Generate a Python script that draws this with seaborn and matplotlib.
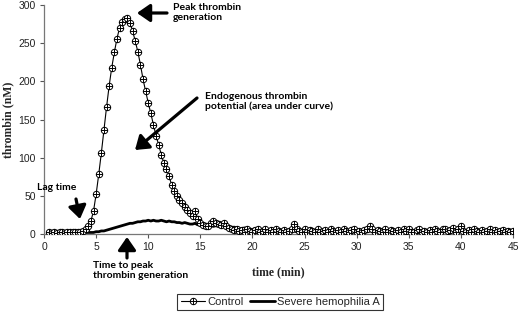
import numpy as np
import pandas as pd
import matplotlib
matplotlib.use("Agg")
import matplotlib.pyplot as plt
from matplotlib.path import Path
import seaborn as sns

# ---------------- data ----------------
time_min = np.round(np.arange(0.5, 45.001, 0.25), 2)  # sampling grid (min)

control_start = [2, 1, 2, 1, 2, 2, 1, 2, 3, 2, 3, 3, 3, 4]          # 0.5 - 3.75
control_peak = [6, 10, 17, 30, 52, 78, 106, 136, 166, 194,
                218, 238, 256, 270, 278, 282, 283, 277, 266, 253,
                239, 222, 203, 187, 172, 158, 143, 129, 117, 104,
                93, 85, 76, 64, 56, 50, 45, 41, 36, 32,
                28, 24, 30, 20, 15, 12, 10, 11, 14, 17,
                15, 13, 12, 14, 10, 8, 7, 5, 6, 4]                  # 4.0 - 18.75
control_tail = [5, 3, 6, 4, 2, 5, 7, 3, 4, 6, 2, 5, 3, 6, 4, 2, 5, 3, 4, 6,
                13, 7, 4, 3, 6, 2, 5, 4, 3, 6, 2, 4, 5, 3, 6, 4, 2, 5, 3, 6,
                4, 2, 5, 6, 3, 4, 2, 5, 7, 11, 6, 3, 5, 4, 2, 6, 3, 5, 4, 2,
                5, 3, 6, 4, 7, 3, 2, 5, 6, 3, 4, 2, 5, 3, 6, 4, 2, 6, 7, 4,
                5, 8, 3, 6, 10, 4, 2, 5, 3, 6, 4, 2, 5, 3, 4, 6, 2, 5, 3, 4,
                5, 2, 4, 3, 4]                                       # 19.0 - 45.0
control = control_start + control_peak + control_tail

hemo_start = [0, 0, 1, 0, 1, 0, 1, 1, 0, 1, 1, 1, 2, 1, 2, 2, 2, 2]  # 0.5 - 4.75
hemo_mid = [3, 3, 4, 4, 5, 6, 7, 8, 9, 10,
            11, 12, 13, 14, 14, 15, 16, 16, 17, 17,
            18, 17, 18, 17, 17, 18, 17, 16, 17, 16,
            16, 15, 15, 14, 15, 14, 13, 13, 14, 12,
            13, 12, 11, 12, 11, 10, 11, 10, 9, 10,
            9, 8, 8, 9, 8, 7, 7, 8, 7, 6,
            6, 7, 6, 6, 5, 6, 5, 5]                                  # 5.0 - 21.75
hemo_tail = [4, 5, 3, 4, 5, 4, 3, 5, 4, 3,
             4, 5, 3, 4, 4, 3, 5, 4, 3, 4,
             5, 3, 4, 4, 3, 5, 4, 3, 4, 3,
             4, 3, 5, 4, 3, 4, 3, 4, 5, 3,
             4, 3, 4, 3, 5, 4, 3, 4, 3, 4,
             3, 4, 3, 5, 4, 3, 4, 3, 4, 3,
             4, 3, 4, 3, 4, 3, 5, 3, 4, 3,
             3, 4, 3, 4, 3, 3, 4, 3, 4, 3,
             3, 4, 3, 3, 4, 3, 3, 4, 3, 4,
             3, 3, 4]                                                 # 22.0 - 45.0
hemophilia = hemo_start + hemo_mid + hemo_tail

series_names = ["Control", "Severe hemophilia A"]
x_ticks = [0, 5, 10, 15, 20, 25, 30, 35, 40, 45]
y_ticks = [0, 50, 100, 150, 200, 250, 300]

df = pd.DataFrame({"time": time_min, "Control": control,
                   "Severe hemophilia A": hemophilia})

# ---------------- figure ----------------
sns.set_theme(style="ticks")
plt.rcParams["font.family"] = ["Liberation Sans", "DejaVu Sans"]

fig = plt.figure(figsize=(5.2, 3.13), dpi=100)
ax = fig.add_axes([44 / 520, 1 - 234 / 313, (513 - 44) / 520, (234 - 5) / 313])

# circle with a cross inside (Excel-like marker)
circ = Path.unit_circle()
cross = Path([(0, -1), (0, 1), (-1, 0), (1, 0)],
             [Path.MOVETO, Path.LINETO, Path.MOVETO, Path.LINETO])
marker_path = Path.make_compound_path(circ, cross)

sns.lineplot(data=df, x="time", y="Severe hemophilia A", ax=ax, color="black",
             linewidth=2.0, label=series_names[1], zorder=2)
sns.lineplot(data=df, x="time", y="Control", ax=ax, color="black",
             linewidth=0.8, marker=marker_path, markersize=4.6,
             markerfacecolor="white", markeredgecolor="black",
             markeredgewidth=0.7, label=series_names[0], zorder=3)

ax.set_xlim(0, 45)
ax.set_ylim(0, 300)
ax.set_xticks(x_ticks)
ax.set_yticks(y_ticks)
ax.tick_params(axis="both", labelsize=7.5, length=3, width=0.8,
               colors="#555555", labelcolor="#222222", pad=3)
for s in ["top", "right"]:
    ax.spines[s].set_visible(False)
for s in ["left", "bottom"]:
    ax.spines[s].set_color("#777777")
    ax.spines[s].set_linewidth(0.9)

ax.set_xlabel("")
ax.set_ylabel("")
fig.text(278 / 520, 1 - 272 / 313, "time (min)", ha="center", va="center",
         fontsize=8.5, fontweight="bold", family="Liberation Serif")
fig.text(8 / 520, 1 - 120 / 313, "thrombin (nM)", ha="center", va="center",
         rotation=90, fontsize=8.5, fontweight="bold", family="Liberation Serif")

# legend
ax.get_legend().remove()
handles, labels = ax.get_legend_handles_labels()
order = [labels.index(series_names[0]), labels.index(series_names[1])]
leg = fig.legend([handles[i] for i in order], [labels[i] for i in order],
                 loc="center", bbox_to_anchor=(280 / 520, 1 - 302 / 313),
                 ncol=2, frameon=True, fancybox=False, fontsize=8,
                 handlelength=2.2, handletextpad=0.2, columnspacing=0.6,
                 borderpad=0.3)
leg.get_frame().set_edgecolor("black")
leg.get_frame().set_linewidth(0.8)

# annotations
ann_font = dict(family="Lato", fontweight="bold", fontsize=7.5, color="black")
arrow = dict(arrowstyle="-|>,head_length=0.65,head_width=0.45",
             color="black", lw=2.3, shrinkA=0, shrinkB=0)


def fig_xy(px, py):
    return (px / 520, 1 - py / 313)


ax.annotate("", xy=fig_xy(137, 13), xytext=fig_xy(167, 13),
            xycoords="figure fraction", textcoords="figure fraction",
            arrowprops=arrow)
fig.text(173 / 520, 1 - 3 / 313, "Peak thrombin\ngeneration", ha="left",
         va="top", linespacing=1.1, **ann_font)

ax.annotate("", xy=fig_xy(135, 150), xytext=fig_xy(197, 98),
            xycoords="figure fraction", textcoords="figure fraction",
            arrowprops=arrow)
fig.text(205 / 520, 1 - 92 / 313, "Endogenous thrombin\npotential (area under curve)",
         ha="left", va="top", linespacing=1.1, **ann_font)

ax.annotate("", xy=fig_xy(80, 219), xytext=fig_xy(76, 199),
            xycoords="figure fraction", textcoords="figure fraction",
            arrowprops=arrow)
fig.text(57 / 520, 1 - 187 / 313, "Lag time", ha="center", va="center",
         **ann_font)

ax.annotate("", xy=fig_xy(127, 237), xytext=fig_xy(127, 258),
            xycoords="figure fraction", textcoords="figure fraction",
            arrowprops=arrow, annotation_clip=False)
fig.text(93 / 520, 1 - 261 / 313, "Time to peak\nthrombin generation",
         ha="left", va="top", linespacing=1.1, **ann_font)

fig.savefig("out.png", dpi=100)
